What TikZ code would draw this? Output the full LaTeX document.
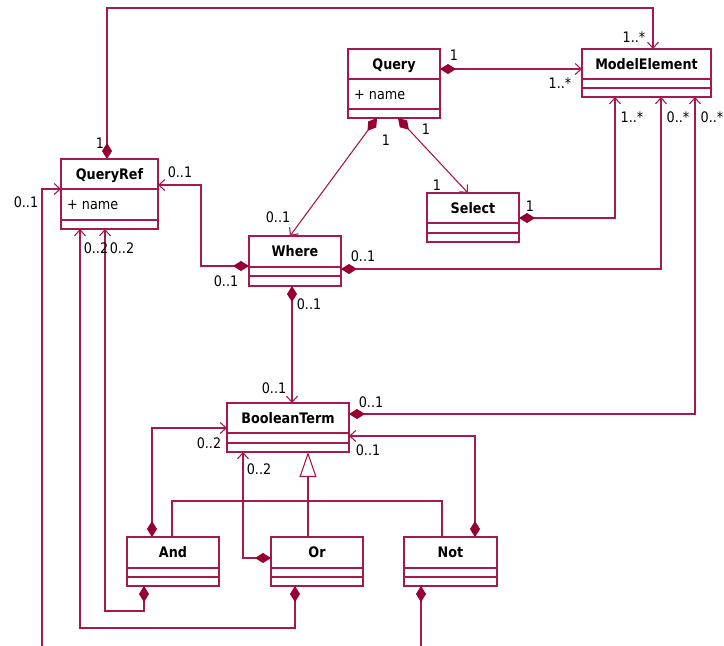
\documentclass[tikz,border=0pt]{standalone}
\usepackage{fontspec}
\setmainfont{DejaVu Sans}[FakeStretch=0.88]
\usetikzlibrary{arrows.meta}
\definecolor{umlline}{RGB}{165,25,80}
\definecolor{umlfill}{RGB}{150,0,50}
\tikzset{
  boxline/.style={draw=umlline, line width=1.1pt},
  classbox/.style={rectangle, draw=umlline, line width=1.1pt, fill=white, inner sep=0pt, outer sep=0pt},
  lbl/.style={font=\fontsize{14.5}{16}\selectfont, inner sep=0pt, text=black, text height=10.6pt, text depth=0pt},
  ttl/.style={font=\fontsize{14.5}{16}\selectfont\bfseries, inner sep=0pt, text=black, text height=10.6pt, text depth=0pt},
  conn/.style={draw=umlline, line width=1.1pt},
  comp/.style={conn, {Diamond[length=16pt,width=10pt,color=umlfill,fill=umlfill]}-{Straight Barb[length=6pt,width=11pt]}},
  compend/.style={conn, {Diamond[length=16pt,width=10pt,color=umlfill,fill=umlfill]}-},
  navend/.style={conn, -{Straight Barb[length=6pt,width=11pt]}},
  gen/.style={conn, -{Triangle[open,length=25pt,width=17pt,fill=white]}},
}
% name, x, y, w, h, div1, div2, title, attribute
\newcommand\umlclass[9]{%
  \node[classbox, minimum width=#4pt, minimum height=#5pt, anchor=north west] (#1) at (#2,#3) {};
  \draw[boxline] ([yshift=-#6pt]#1.north west) -- ([yshift=-#6pt]#1.north east);
  \draw[boxline] ([yshift=-#7pt]#1.north west) -- ([yshift=-#7pt]#1.north east);
  \node[ttl] (#1-t) at ([yshift={-0.5*#6pt}]#1.north) {#8};
  \if\relax\detokenize{#9}\relax\else
    \node[lbl, anchor=west] (#1-a) at ([xshift=6pt,yshift={-0.5*(#6+#7)*1pt}]#1.north west) {#9};
  \fi
}
\begin{document}
\begin{tikzpicture}[x=1pt,y=-1pt]
\useasboundingbox (0,0) rectangle (724,646);
\fill[white] (0,0) rectangle (724,646);

\umlclass{query}{348}{49}{92}{69}{30}{60}{Query}{+ name}
\umlclass{modelelement}{582}{49}{129}{48}{30}{39}{ModelElement}{}
\umlclass{select}{427}{193}{92}{49}{30}{40}{Select}{}
\umlclass{queryref}{61}{159}{97}{70}{30}{61}{QueryRef}{+ name}
\umlclass{where}{249}{236}{92}{50}{31}{40}{Where}{}
\umlclass{boolterm}{227}{403}{122}{49}{30}{40}{BooleanTerm}{}
\umlclass{and}{127}{537}{92}{49}{31}{40}{And}{}
\umlclass{or}{271}{537}{92}{49}{31}{40}{Or}{}
\umlclass{not}{404}{537}{93}{49}{31}{40}{Not}{}

% helper coordinates for bends and free ends
\coordinate (c1a) at (107,8);
\coordinate (c1b) at (653,8);
\coordinate (c8a) at (201,266);
\coordinate (c8b) at (201,185);
\coordinate (c10) at (42,646);
\coordinate (c11a) at (144,611);
\coordinate (c11b) at (105,611);
\coordinate (c12a) at (295,628);
\coordinate (c12b) at (80,628);
\coordinate (c16) at (421,646);
\coordinate (g1) at (172,501);
\coordinate (g2) at (442,501);
\coordinate (g3) at (286,501);

% QueryRef -> ModelElement
\draw[comp] ([xshift=46pt]queryref.north west) -- (c1a) -- (c1b) -- ([xshift=71pt]modelelement.north west);
% Query -> ModelElement
\draw[comp] ([yshift=-20pt]query.north east) -- ([yshift=-20pt]modelelement.north west);
% Query -> Where
\draw[comp] ([xshift=29pt]query.south west) -- ([xshift=41pt]where.north west);
% Query -> Select
\draw[comp] ([xshift=50pt]query.south west) -- ([xshift=41pt]select.north west);
% Select -> ModelElement
\draw[comp] ([yshift=-25pt]select.north east) -| ([xshift=33pt]modelelement.south west);
% Where -> ModelElement
\draw[comp] ([yshift=-33pt]where.north east) -| ([xshift=79pt]modelelement.south west);
% BooleanTerm -> ModelElement
\draw[comp] ([yshift=-11pt]boolterm.north east) -| ([xshift=113pt]modelelement.south west);
% Where -> QueryRef
\draw[comp] ([yshift=-30pt]where.north west) -- (c8a) -- (c8b) -- ([yshift=-26pt]queryref.north east);
% Where -> BooleanTerm
\draw[comp] ([xshift=43pt]where.south west) -- ([xshift=65pt]boolterm.north west);
% long line from below -> QueryRef
\draw[navend] (c10) |- ([yshift=-30pt]queryref.north west);
% And -> QueryRef
\draw[comp] ([xshift=17pt]and.south west) -- (c11a) -- (c11b) -- ([xshift=44pt]queryref.south west);
% Or -> QueryRef
\draw[comp] ([xshift=24pt]or.south west) -- (c12a) -- (c12b) -- ([xshift=19pt]queryref.south west);
% And -> BooleanTerm
\draw[comp] ([xshift=25pt]and.north west) |- ([yshift=-25pt]boolterm.north west);
% Or -> BooleanTerm
\draw[comp] ([yshift=-21pt]or.north west) -| ([xshift=16pt]boolterm.south west);
% Not -> BooleanTerm
\draw[comp] ([xshift=71pt]not.north west) |- ([yshift=-33pt]boolterm.north east);
% Not -> below
\draw[compend] ([xshift=17pt]not.south west) -- (c16);
% generalization
\draw[gen] ([xshift=37pt]or.north west) -- ([xshift=81pt]boolterm.south west);
\draw[conn] ([xshift=45pt]and.north west) -- (g1) -- (g2) -- ([xshift=38pt]not.north west);
\draw[conn, line width=1.8pt] (g3) -- (g2);

% multiplicities
\node[lbl] (l1) at (100,143) {1};
\node[lbl] (l2) at (634,37) {1..*};
\node[lbl] (l3) at (454,55) {1};
\node[lbl] (l4) at (560,83) {1..*};
\node[lbl] (l5) at (386,140) {1};
\node[lbl] (l6) at (426,129) {1};
\node[lbl] (l7) at (437,185) {1};
\node[lbl] (l8) at (278,217) {0..1};
\node[lbl] (l9) at (530,206) {1};
\node[lbl] (l10) at (632,117) {1..*};
\node[lbl] (l11) at (678,117) {0..*};
\node[lbl] (l12) at (712,117) {0..*};
\node[lbl] (l13) at (363,256) {0..1};
\node[lbl] (l14) at (180,172) {0..1};
\node[lbl] (l15) at (226,281) {0..1};
\node[lbl] (l16) at (309,304) {0..1};
\node[lbl] (l17) at (274,388) {0..1};
\node[lbl] (l18) at (371,402) {0..1};
\node[lbl] (l19) at (368,450) {0..1};
\node[lbl] (l20) at (26,202) {0..1};
\node[lbl] (l21) at (96,248) {0..2};
\node[lbl] (l22) at (122,248) {0..2};
\node[lbl] (l23) at (209,443) {0..2};
\node[lbl] (l24) at (259,469) {0..2};
\end{tikzpicture}
\end{document}
